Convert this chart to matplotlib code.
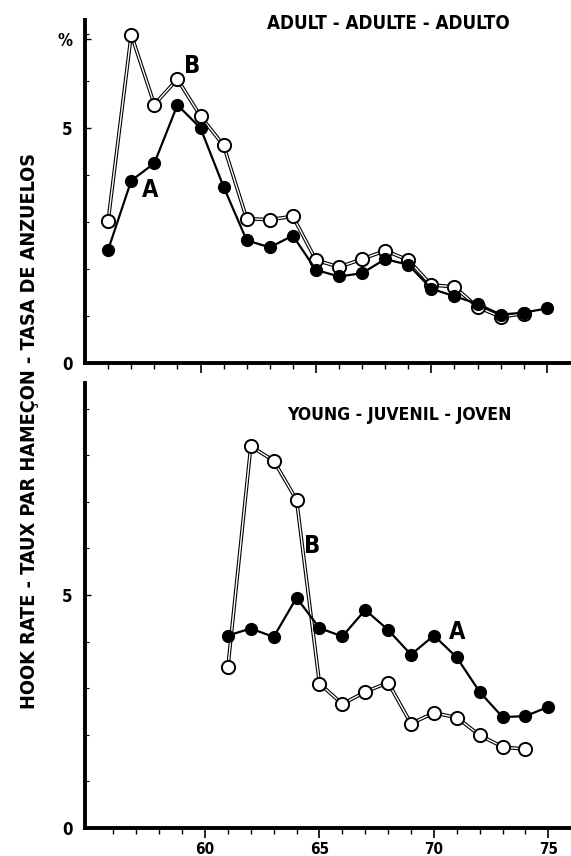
import matplotlib
matplotlib.use("Agg")
import matplotlib.pyplot as plt
import numpy as np

plt.rcParams["font.family"] = ["DejaVu Sans"]

# adult panel
adult_years_a = list(range(56, 76))
adult_a = [2.41, 3.88, 4.25, 5.49, 5.00, 3.75, 2.61, 2.46, 2.71, 1.98,
           1.84, 1.91, 2.21, 2.09, 1.58, 1.42, 1.26, 1.03, 1.07, 1.16]
adult_years_b = list(range(56, 75))
adult_b = [3.03, 6.99, 5.50, 6.04, 5.25, 4.63, 3.07, 3.05, 3.12, 2.19,
           2.04, 2.21, 2.39, 2.19, 1.66, 1.62, 1.19, 0.98, 1.05]

# young panel
young_years_a = list(range(61, 76))
young_a = [4.13, 4.28, 4.10, 4.94, 4.29, 4.11, 4.68, 4.25, 3.72, 4.13,
           3.66, 2.92, 2.38, 2.40, 2.60]
young_years_b = list(range(61, 75))
young_b = [3.45, 8.19, 7.88, 7.04, 3.10, 2.66, 2.92, 3.12, 2.24, 2.47,
           2.37, 1.99, 1.74, 1.69]

x_ticks = [60, 65, 70, 75]
adult_yticks = [0, 5, 6.9]
adult_ylabels = ["0", "5", "%"]
young_yticks = [0, 5]

TXT = dict(fontweight="bold", fontstretch="condensed")


def draw_series(ax, xa, ya, xb, yb):
    # B: double line (black outline, white core) with open circles
    ax.plot(xb, yb, color="black", lw=2.6, zorder=2)
    ax.plot(xb, yb, color="white", lw=1.0, zorder=3)
    ax.plot(xb, yb, ls="none", marker="o", ms=9.5, mfc="white", mec="black",
            mew=1.4, zorder=4)
    # A: solid line with filled circles
    ax.plot(xa, ya, color="black", lw=1.6, marker="o", ms=8.5, mfc="black",
            mec="black", zorder=5)


def style_axis(ax, xlim, ylim, yticks, ylabels, labels_x):
    ax.set_xlim(*xlim)
    ax.set_ylim(0, ylim)
    for s in ["top", "right"]:
        ax.spines[s].set_visible(False)
    for s in ["left", "bottom"]:
        ax.spines[s].set_linewidth(2.8)
    ax.set_xticks(x_ticks)
    ax.set_xticks(range(56, 76), minor=True)
    ax.tick_params(axis="x", which="major", direction="out", length=7, width=1.2,
                   labelsize=11, pad=3)
    ax.tick_params(axis="x", which="minor", direction="out", length=4, width=1.0)
    if not labels_x:
        ax.set_xticklabels([])
    ax.set_yticks(yticks)
    ax.set_yticklabels(ylabels)
    ax.set_yticks(np.arange(1, int(ylim) + 1), minor=True)
    ax.tick_params(axis="y", which="major", direction="in", length=4, width=1.0,
                   labelsize=12, pad=9)
    ax.tick_params(axis="y", which="minor", direction="in", length=3, width=0.8)
    for t in ax.get_xticklabels() + ax.get_yticklabels():
        t.set_fontweight("bold")
        t.set_fontstretch("condensed")


fig = plt.figure(figsize=(5.71, 8.56), dpi=100)
ax1 = fig.add_axes([0.149, 0.576, 0.849, 0.4007])
ax2 = fig.add_axes([0.149, 0.0327, 0.849, 0.52])

draw_series(ax1, adult_years_a, adult_a, adult_years_b, adult_b)
style_axis(ax1, (55.0, 76.0), 7.3, adult_yticks, adult_ylabels, False)
ax1.text(0.375, 0.991, "ADULT - ADULTE - ADULTO", transform=ax1.transAxes,
         ha="left", va="center", fontsize=13.5, **TXT)
ax1.text(59.64, 6.32, "B", ha="center", va="center", fontsize=17, **TXT)
ax1.text(57.8, 3.68, "A", ha="center", va="center", fontsize=17, **TXT)

draw_series(ax2, young_years_a, young_a, young_years_b, young_b)
style_axis(ax2, (54.76, 75.94), 9.55, young_yticks, ["0", "5"], True)
ax2.text(0.416, 0.928, "YOUNG - JUVENIL - JOVEN", transform=ax2.transAxes,
         ha="left", va="center", fontsize=12.6, **TXT)
ax2.text(64.7, 6.05, "B", ha="center", va="center", fontsize=17, **TXT)
ax2.text(71.0, 4.2, "A", ha="center", va="center", fontsize=17, **TXT)

fig.text(0.051, 0.4965, "HOOK RATE - TAUX PAR HAMEÇON - TASA DE ANZUELOS",
         rotation=90, ha="center", va="center", fontsize=14.2, **TXT)

fig.savefig("out.png", dpi=100)
